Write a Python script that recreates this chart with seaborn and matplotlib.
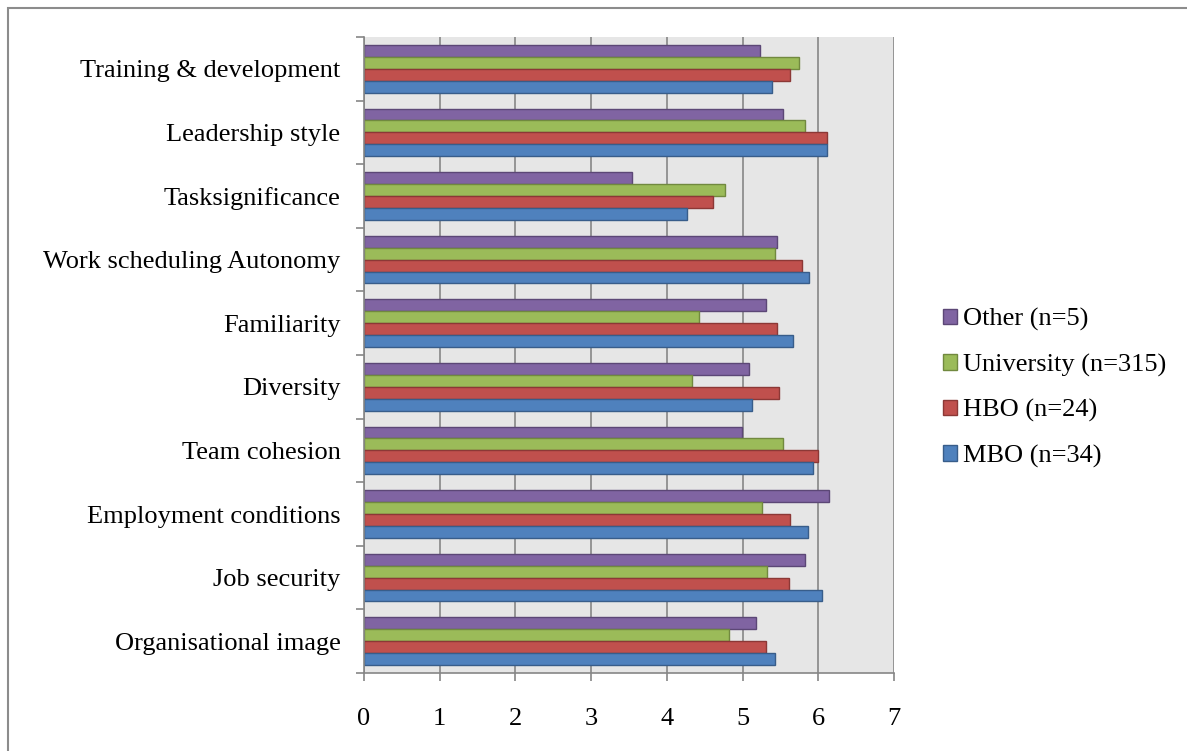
import matplotlib
matplotlib.use("Agg")
import matplotlib.pyplot as plt
import matplotlib.patches as mpatches
import seaborn as sns
import pandas as pd

categories = ["Training & development", "Leadership style", "Tasksignificance",
              "Work scheduling Autonomy", "Familiarity", "Diversity",
              "Team cohesion", "Employment conditions", "Job security",
              "Organisational image"]
series_names = ["Other (n=5)", "University (n=315)", "HBO (n=24)", "MBO (n=34)"]
other = [5.23, 5.54, 3.54, 5.45, 5.31, 5.09, 4.99, 6.14, 5.83, 5.18]
university = [5.75, 5.83, 4.77, 5.43, 4.43, 4.33, 5.54, 5.25, 5.32, 4.82]
hbo = [5.63, 6.12, 4.61, 5.78, 5.45, 5.48, 6.00, 5.63, 5.61, 5.31]
mbo = [5.39, 6.11, 4.27, 5.88, 5.66, 5.13, 5.93, 5.87, 6.05, 5.43]
x_ticks = [0, 1, 2, 3, 4, 5, 6, 7]

fills = ["#8064A2", "#9BBB59", "#C0504D", "#4F81BD"]
edges = ["#5C4776", "#71893F", "#8C3836", "#385D8A"]

rows = []
for name, vals in zip(series_names, [other, university, hbo, mbo]):
    for c, v in zip(categories, vals):
        rows.append({"category": c, "series": name, "value": v})
df = pd.DataFrame(rows)

sns.set_style("white")
plt.rcParams["font.family"] = ["Liberation Serif", "DejaVu Serif"]
plt.rcParams["text.color"] = "black"
plt.rcParams["xtick.labelcolor"] = "black"
plt.rcParams["ytick.labelcolor"] = "black"
FS = 19

W, H = 1187, 751
fig = plt.figure(figsize=(W / 100, H / 100), dpi=100)
ax = fig.add_axes([364 / W, 1 - 673 / H, (894 - 364) / W, (673 - 37) / H])
ax.set_facecolor("#E6E6E6")

sns.barplot(data=df, y="category", x="value", hue="series", order=categories,
            hue_order=series_names, palette=fills, orient="h", width=0.75,
            ax=ax, legend=False, saturation=1, linewidth=1.0)

for cont, ec in zip(ax.containers, edges):
    for p in cont:
        p.set_edgecolor(ec)
        p.set_linewidth(1.0)
        p.set_zorder(3)

ax.set_xlim(0, 7)
ax.set_ylim(len(categories) - 0.5, -0.5)
ax.set_xticks(x_ticks)
ax.set_xticklabels([str(t) for t in x_ticks], fontsize=FS, color="black")
ax.set_yticks(range(len(categories)))
ax.set_yticklabels(categories, fontsize=FS, color="black")
ax.set_xlabel("")
ax.set_ylabel("")

# Excel-style ticks at category boundaries
ax.set_yticks([i - 0.5 for i in range(len(categories) + 1)], minor=True)
ax.tick_params(axis="y", which="major", length=0, pad=17)
ax.tick_params(axis="y", which="minor", length=6, width=1.2, color="#868686", direction="out")
ax.tick_params(axis="x", which="major", length=6, width=1.2, color="#868686",
               direction="out", pad=19)
ax.tick_params(left=True, bottom=True, which="both")
ax.tick_params(axis="y", which="major", left=False)

ax.grid(axis="x", color="#868686", linewidth=1.2, zorder=0)
ax.grid(axis="y", visible=False)
ax.set_axisbelow(True)
for s in ["top", "right"]:
    ax.spines[s].set_visible(False)
for s in ["left", "bottom"]:
    ax.spines[s].set_color("#868686")
    ax.spines[s].set_linewidth(1.2)
    ax.spines[s].set_zorder(4)

handles = [mpatches.Patch(facecolor=f, edgecolor=e, linewidth=1.0, label=n)
           for f, e, n in zip(fills, edges, series_names)]
leg = fig.legend(handles=handles, loc="center left",
                 bbox_to_anchor=(943 / W, 1 - 388 / H), frameon=False, fontsize=FS,
                 handlelength=0.52, handleheight=0.52, handletextpad=0.25,
                 labelspacing=0.85, borderpad=0, borderaxespad=0)
for t in leg.get_texts():
    t.set_color("black")

frame = mpatches.Rectangle((8 / W, -0.2), 1.5, 1.2 - 8 / H,
                           transform=fig.transFigure, fill=False,
                           edgecolor="#8C8C8C", linewidth=1.5, clip_on=False)
fig.add_artist(frame)

fig.savefig("out.png", dpi=100)
